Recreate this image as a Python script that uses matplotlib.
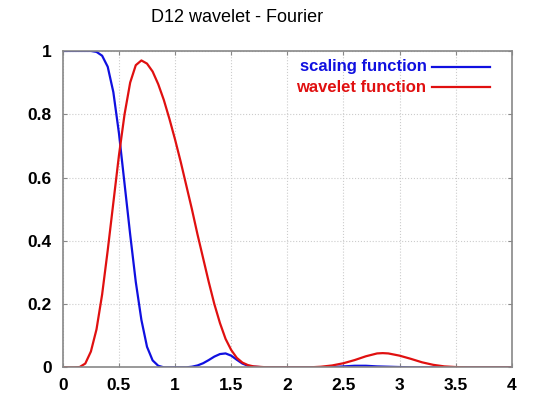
import matplotlib.pyplot as plt

# values
x_scaling = [0.0, 0.1, 0.2, 0.25, 0.3, 0.35, 0.4, 0.45, 0.5, 0.55, 0.6, 0.65, 0.7, 0.75,
             0.8, 0.85, 0.9, 1.0, 1.1, 1.15, 1.2, 1.25, 1.3, 1.35, 1.4, 1.45, 1.5, 1.55,
             1.6, 1.65, 1.7, 1.8, 2.0, 2.2, 2.4, 2.5, 2.6, 2.7, 2.8, 2.9, 3.0, 3.1, 3.5, 4.0]
y_scaling = [1.0, 1.0, 1.0, 1.0, 0.997, 0.985, 0.95, 0.87, 0.74, 0.58, 0.42, 0.27, 0.15, 0.065,
             0.022, 0.005, 0.0, 0.0, 0.0, 0.002, 0.006, 0.013, 0.023, 0.034, 0.042, 0.044, 0.037, 0.024,
             0.012, 0.005, 0.002, 0.0, 0.0, 0.0, 0.001, 0.003, 0.005, 0.005, 0.003, 0.002, 0.001, 0.0, 0.0, 0.0]

x_wavelet = [0.0, 0.1, 0.15, 0.2, 0.25, 0.3, 0.35, 0.4, 0.45, 0.5, 0.55, 0.6, 0.65, 0.7,
             0.75, 0.8, 0.85, 0.9, 0.95, 1.0, 1.05, 1.1, 1.15, 1.2, 1.25, 1.3, 1.35, 1.4,
             1.45, 1.5, 1.55, 1.6, 1.65, 1.7, 1.8, 1.9, 2.2, 2.3, 2.4, 2.5, 2.6, 2.7,
             2.8, 2.85, 2.9, 3.0, 3.1, 3.2, 3.3, 3.4, 3.5, 3.6, 4.0]
y_wavelet = [0.0, 0.0, 0.001, 0.012, 0.05, 0.12, 0.23, 0.37, 0.52, 0.67, 0.8, 0.9, 0.955, 0.97,
             0.96, 0.935, 0.895, 0.845, 0.785, 0.72, 0.65, 0.575, 0.5, 0.42, 0.345, 0.27, 0.2, 0.14,
             0.09, 0.055, 0.03, 0.015, 0.007, 0.003, 0.0005, 0.0, 0.0, 0.002, 0.006, 0.013, 0.023, 0.035,
             0.044, 0.045, 0.044, 0.037, 0.027, 0.016, 0.008, 0.003, 0.001, 0.0, 0.0]

x_ticks = [0, 0.5, 1, 1.5, 2, 2.5, 3, 3.5, 4]
y_ticks = [0, 0.2, 0.4, 0.6, 0.8, 1]
title = "D12 wavelet - Fourier"

plt.rcParams['font.family'] = ['Liberation Sans', 'DejaVu Sans']

fig = plt.figure(figsize=(5.37, 3.98), dpi=100)
ax = fig.add_axes([0.117, 0.077, 0.836, 0.795])

ax.plot(x_scaling, y_scaling, color='#1010e0', lw=1.6, label='scaling function')
ax.plot(x_wavelet, y_wavelet, color='#e01010', lw=1.6, label='wavelet function')

ax.set_xlim(0, 4)
ax.set_ylim(0, 1)
ax.set_xticks(x_ticks)
ax.set_yticks(y_ticks)
ax.set_xticklabels([f"{t:g}" for t in x_ticks], fontsize=12.5, fontweight='bold')
ax.set_yticklabels([f"{t:g}" for t in y_ticks], fontsize=12.5, fontweight='bold')
ax.tick_params(direction='in', length=3, color='#888888', pad=8, top=True, right=True)
ax.grid(True, color='#cccccc', linestyle=':', linewidth=0.8)
for s in ax.spines.values():
    s.set_color('#888888')
    s.set_linewidth(1.2)

fig.text(0.442, 0.955, title, ha='center', va='center', fontsize=13)

# gnuplot style key: text right aligned, sample line on its right
key_rows = [(0.95, 'scaling function', '#1010e0'), (0.886, 'wavelet function', '#e01010')]
for yk, txt, col in key_rows:
    ax.text(0.81, yk, txt, color=col, fontsize=12, fontweight='bold', ha='right', va='center',
            transform=ax.transAxes)
    ax.plot([0.823, 0.952], [yk, yk], color=col, lw=1.6, transform=ax.transAxes)

fig.savefig('out.png', dpi=100)
